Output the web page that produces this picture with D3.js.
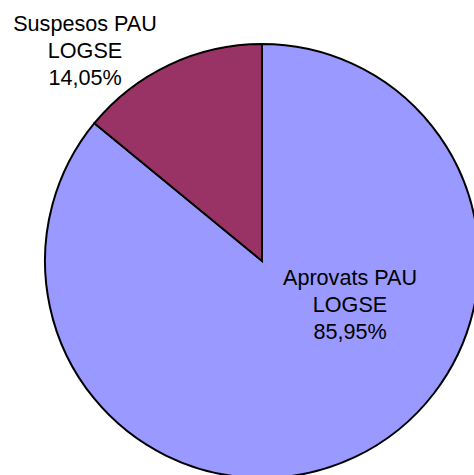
<!DOCTYPE html>
<html>
<head>
<meta charset="utf-8">
<script src="https://cdn.jsdelivr.net/npm/d3@7"></script>
<style>
  html, body { margin: 0; padding: 0; background: #fff; }
  svg { display: block; }
</style>
</head>
<body>
<svg id="chart" width="474" height="475"></svg>
<script>
const categories = ["Aprovats PAU LOGSE", "Suspesos PAU LOGSE"];
const values = [85.95, 14.05];
const labelLines = [["Aprovats PAU", "LOGSE", "85,95%"], ["Suspesos PAU", "LOGSE", "14,05%"]];
const colors = ["#9999FF", "#993366"];

const svg = d3.select("#chart");
const cx = 262, cy = 261, r = 217;

const pie = d3.pie().sort(null).value(d => d)(values);
const arc = d3.arc().innerRadius(0).outerRadius(r);

const g = svg.append("g").attr("transform", `translate(${cx},${cy})`);
g.selectAll("path").data(pie).enter().append("path")
  .attr("d", arc)
  .attr("fill", (d, i) => colors[i])
  .attr("stroke", "#000")
  .attr("stroke-width", 2)
  .attr("stroke-linejoin", "miter");

// label anchor positions (relative to pie centre)
const labelPos = [[88, 24], [-177, -230]];
const lineH = 27;
labelLines.forEach((lines, i) => {
  const t = svg.append("text")
    .attr("x", cx + labelPos[i][0])
    .attr("y", cy + labelPos[i][1])
    .attr("text-anchor", "middle")
    .attr("font-family", "Liberation Sans, Arial, sans-serif")
    .attr("font-size", 21.6)
    .attr("fill", "#000");
  lines.forEach((ln, j) => {
    t.append("tspan").attr("x", cx + labelPos[i][0]).attr("dy", j === 0 ? 0 : lineH).text(ln);
  });
});
</script>
</body>
</html>
